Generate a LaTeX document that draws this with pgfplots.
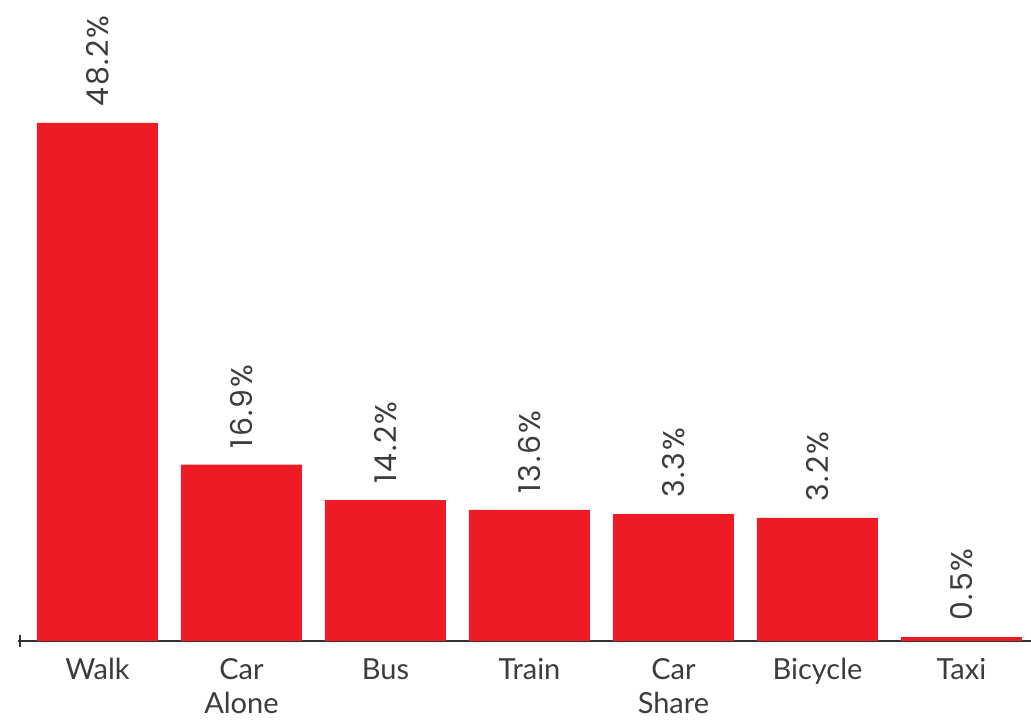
\documentclass[border=0pt]{standalone}
\usepackage{pgfplots}
\pgfplotsset{compat=1.18}
\usepackage{fontspec}
\setmainfont{Lato}
\newfontfamily\numfont{Poppins}[LetterSpace=6]
\definecolor{barred}{HTML}{ED1C24}
\definecolor{txt}{HTML}{3C3C3C}
\definecolor{axisgray}{HTML}{333333}
\begin{document}
\begin{tikzpicture}
\begin{axis}[
  scale only axis,
  width=506.5pt, height=320.5pt,
  xmin=-0.552, xmax=6.483,
  ymin=0, ymax=59.64,
  axis y line=none,
  axis x line*=bottom,
  x axis line style={axisgray, line width=1.3pt, -},
  xtick=data,
  xticklabels={Walk, Car\\Alone, Bus, Train, Car\\Share, Bicycle, Taxi},
  major tick length=0pt,
  xticklabel style={font=\fontsize{14.5}{17}\selectfont, text=txt, align=center, inner sep=0pt, yshift=-8.5pt},
  ybar, bar width=60.5pt, bar shift=0pt,
  point meta=explicit symbolic,
  nodes near coords,
  nodes near coords style={rotate=90, anchor=west, inner sep=0pt, inner xsep=8pt,
    font=\numfont\fontsize{15}{18}\selectfont, text=txt},
  clip=false,
]
% bar heights as drawn in the reference; labels as printed
\addplot[fill=barred, draw=none] coordinates {
  (0,48.2) [48.2\%]
  (1,16.4) [16.9\%]
  (2,13.1) [14.2\%]
  (3,12.2) [13.6\%]
  (4,11.8) [3.3\%]
  (5,11.45) [3.2\%]
  (6,0.37) [0.5\%]
};
\draw[axisgray, line width=1.3pt] ([yshift=-3pt]axis cs:-0.538,0) -- ([yshift=3pt]axis cs:-0.538,0);
\coordinate (bl) at (rel axis cs:0,0);
\coordinate (tr) at (rel axis cs:1,1);
\end{axis}
\pgfresetboundingbox
\path ([xshift=-9pt,yshift=-39.5pt]bl) rectangle (tr);
\end{tikzpicture}
\end{document}
